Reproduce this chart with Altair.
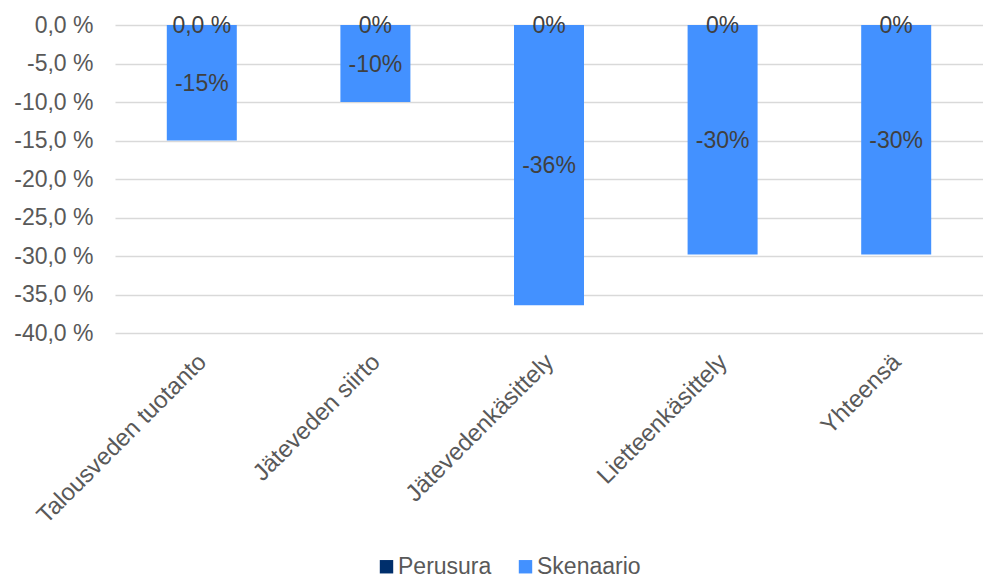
import altair as alt
import pandas as pd

categories = ["Talousveden tuotanto", "Jäteveden siirto", "Jätevedenkäsittely", "Lietteenkäsittely", "Yhteensä"]
series = ["Perusura", "Skenaario"]
perusura = [0.0, 0.0, 0.0, 0.0, 0.0]
skenaario = [-15.0, -10.0, -36.4, -29.8, -29.8]
perusura_labels = ["0,0 %", "0%", "0%", "0%", "0%"]
skenaario_labels = ["-15%", "-10%", "-36%", "-30%", "-30%"]
colors = ["#002F6C", "#4391FF"]
y_ticks = [0, -5, -10, -15, -20, -25, -30, -35, -40]

rows = []
for c, v, l in zip(categories, perusura, perusura_labels):
    rows.append({"category": c, "series": "Perusura", "value": v, "label": l})
for c, v, l in zip(categories, skenaario, skenaario_labels):
    rows.append({"category": c, "series": "Skenaario", "value": v, "label": l})
df = pd.DataFrame(rows)

FONT = "Liberation Sans"

x_axis = alt.Axis(
    title=None,
    labelAngle=-45,
    labelAlign="right",
    labelBaseline="middle",
    labelPadding=25,
    labelOffset=1,
    labelFont=FONT,
    labelFontSize=24,
    labelColor="#595959",
    labelOverlap=False,
    domain=False,
    ticks=False,
    grid=False,
    labelLimit=400,
)

y_axis = alt.Axis(
    title=None,
    values=y_ticks,
    tickCount=9,
    labelExpr="replace(replace(format(datum.value, '.1f'), '.', ','), '\u2212', '-') + ' %'",
    labelFont=FONT,
    labelFontSize=23,
    labelColor="#595959",
    labelPadding=22,
    labelOverlap=False,
    labelFlush=False,
    domain=False,
    ticks=False,
    gridColor="#D9D9D9",
    gridWidth=1.5,
)

y_scale = alt.Scale(domain=[-40, 0], nice=False, zero=False)
x_scale = alt.Scale(paddingInner=0, paddingOuter=0)

bars = alt.Chart(df).mark_bar(width=70).encode(
    x=alt.X("category:N", sort=categories, scale=x_scale, axis=x_axis),
    y=alt.Y("value:Q", scale=y_scale, axis=y_axis),
    y2=alt.datum(0),
    color=alt.Color(
        "series:N",
        scale=alt.Scale(domain=series, range=colors),
        legend=alt.Legend(
            title=None,
            orient="none",
            direction="horizontal",
            legendX=260,
            legendY=530,
            symbolType="square",
            symbolSize=180,
            symbolStrokeWidth=0,
            labelFont=FONT,
            labelFontSize=23,
            labelColor="#595959",
            labelOffset=0,
            columnPadding=22,
        ),
    ),
)

texts = alt.Chart(df).transform_calculate(
    mid="datum.value / 2"
).mark_text(
    font=FONT, fontSize=23, color="#404040", baseline="middle", align="center", dy=1
).encode(
    x=alt.X("category:N", sort=categories, scale=x_scale, axis=x_axis),
    y=alt.Y("mid:Q", scale=y_scale, axis=y_axis),
    text="label:N",
)

chart = alt.layer(bars, texts).properties(
    width=868,
    height=308,
    autosize=alt.AutoSizeParams(type="none"),
    padding={"left": 115, "top": 25, "right": 0, "bottom": 245},
).configure(background="white").configure_view(stroke=None)

chart.save("out.html", embed_options={"renderer": "svg", "actions": False})
